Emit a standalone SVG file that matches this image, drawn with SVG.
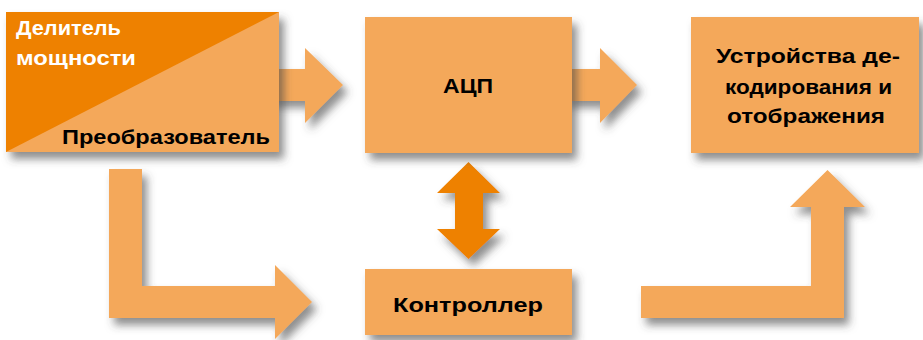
<svg xmlns="http://www.w3.org/2000/svg" width="923" height="340" viewBox="0 0 923 340">
  <defs>
    <filter id="sh" x="-20%" y="-20%" width="150%" height="160%">
      <feDropShadow dx="5" dy="7" stdDeviation="4" flood-color="#444" flood-opacity="0.6"/>
    </filter>
    <style>
      .light { fill: #F4A85A; }
      .dark { fill: #EE8100; }
      .t { font-family: "Liberation Sans", Arial, sans-serif; font-weight: bold; font-size: 21px; fill: #000; }
      .w { fill: #fff; }
    </style>
  </defs>
  <rect width="923" height="340" fill="#fff"/>

  <g id="connectors" filter="url(#sh)">
    <polygon class="light" points="270,69 305,69 305,48 343,85 305,123 305,101 270,101"/>
    <polygon class="light" points="565,69 600,69 600,48 637,85 600,123 600,101 565,101"/>
    <polygon class="light" points="109,169 142,169 142,286 275,286 275,265 312,302 275,339 275,318 109,318"/>
    <polygon class="dark" points="468.5,162 500,193 483,193 483,229 500,229 468.5,259 437,229 455,229 455,193 437,193"/>
    <polygon class="light" points="641,286 811,286 811,207 790,207 827.5,170 865,207 844,207 844,318 641,318"/>
  </g>

  <g id="node-divider-converter">
    <g filter="url(#sh)">
      <rect class="light" x="6" y="12" width="273" height="140"/>
    </g>
    <polygon class="dark" points="6,12 279,12 6,152"/>
    <text class="t w" x="16" y="35" textLength="105" lengthAdjust="spacingAndGlyphs">Делитель</text>
    <text class="t w" x="16" y="65" textLength="120" lengthAdjust="spacingAndGlyphs">мощности</text>
    <text class="t" x="62" y="144" textLength="208" lengthAdjust="spacingAndGlyphs">Преобразователь</text>
  </g>

  <g id="node-adc">
    <rect class="light" x="365" y="17" width="207" height="136" filter="url(#sh)"/>
    <text class="t" x="443" y="93" textLength="50" lengthAdjust="spacingAndGlyphs">АЦП</text>
  </g>

  <g id="node-display">
    <rect class="light" x="691" y="17" width="228" height="136" filter="url(#sh)"/>
    <text class="t" x="716" y="63" textLength="184" lengthAdjust="spacingAndGlyphs">Устройства де-</text>
    <text class="t" x="725" y="94" textLength="167" lengthAdjust="spacingAndGlyphs">кодирования и</text>
    <text class="t" x="727" y="123" textLength="158" lengthAdjust="spacingAndGlyphs">отображения</text>
  </g>

  <g id="node-controller">
    <rect class="light" x="365" y="269" width="207" height="66" filter="url(#sh)"/>
    <text class="t" x="393" y="312" textLength="150" lengthAdjust="spacingAndGlyphs">Контроллер</text>
  </g>
</svg>
